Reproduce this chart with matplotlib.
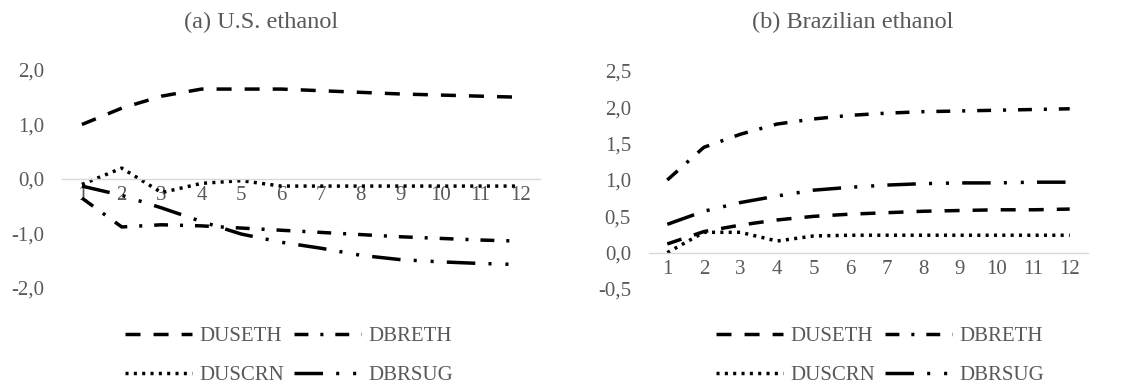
import matplotlib
matplotlib.use("Agg")
import matplotlib.pyplot as plt

# データ
periods = [1, 2, 3, 4, 5, 6, 7, 8, 9, 10, 11, 12]

# (a) U.S. ethanol
us_duseth = [1.00, 1.30, 1.52, 1.65, 1.65, 1.65, 1.62, 1.59, 1.56, 1.54, 1.52, 1.50]
us_dbreth = [-0.35, -0.88, -0.84, -0.86, -0.90, -0.94, -0.98, -1.02, -1.06, -1.09, -1.12, -1.14]
us_duscrn = [-0.10, 0.20, -0.25, -0.08, -0.03, -0.13, -0.13, -0.13, -0.13, -0.13, -0.13, -0.13]
us_dbrsug = [-0.13, -0.30, -0.53, -0.78, -1.01, -1.16, -1.27, -1.40, -1.48, -1.52, -1.55, -1.57]

# (b) Brazilian ethanol
br_duseth = [0.12, 0.29, 0.38, 0.45, 0.50, 0.53, 0.55, 0.57, 0.58, 0.59, 0.59, 0.60]
br_dbreth = [1.00, 1.45, 1.63, 1.77, 1.84, 1.89, 1.92, 1.94, 1.95, 1.96, 1.97, 1.98]
br_duscrn = [0.00, 0.28, 0.28, 0.16, 0.23, 0.24, 0.24, 0.24, 0.24, 0.24, 0.24, 0.24]
br_dbrsug = [0.39, 0.57, 0.69, 0.78, 0.86, 0.90, 0.93, 0.95, 0.96, 0.96, 0.97, 0.97]

us_yticks = [-2.0, -1.0, 0.0, 1.0, 2.0]
us_ylabels = ["-2,0", "-1,0", "0,0", "1,0", "2,0"]
br_yticks = [-0.5, 0.0, 0.5, 1.0, 1.5, 2.0, 2.5]
br_ylabels = ["-0,5", "0,0", "0,5", "1,0", "1,5", "2,0", "2,5"]

names = ["DUSETH", "DBRETH", "DUSCRN", "DBRSUG"]

plt.rcParams["font.family"] = ["Liberation Serif", "DejaVu Serif"]
plt.rcParams["lines.scale_dashes"] = False
gray = "#595959"

# 線種 (pt)
styles = {
    "DUSETH": (0, (10.8, 9.4)),
    "DBRETH": (0, (10.0, 8.6, 2.2, 8.6)),
    "DUSCRN": (0, (2.2, 3.8)),
    "DBRSUG": (0, (20.5, 9.5, 2.2, 10.0, 2.2, 9.5)),
}

fig = plt.figure(figsize=(11.26, 3.85), dpi=100)
ax1 = fig.add_axes([62 / 1126, 1 - 288 / 385, 478 / 1126, 218 / 385])
ax2 = fig.add_axes([649 / 1126, 1 - 289 / 385, 439 / 1126, 218 / 385])


def draw(ax, series, yticks, ylabels):
    handles = {}
    for name, vals in zip(names, series):
        (ln,) = ax.plot(periods, vals, color="black", linewidth=2.5,
                        linestyle=styles[name], label=name)
        handles[name] = ln
    ax.set_xlim(0.5, 12.5)
    ax.set_ylim(yticks[0], yticks[-1])
    ax.set_xticks(periods)
    ax.set_xticklabels([str(p) for p in periods])
    ax.set_yticks(yticks)
    ax.set_yticklabels(ylabels)
    for s in ["top", "right", "left"]:
        ax.spines[s].set_visible(False)
    ax.spines["bottom"].set_position(("data", 0))
    ax.spines["bottom"].set_color("#d9d9d9")
    ax.spines["bottom"].set_linewidth(1.0)
    ax.tick_params(axis="x", length=0, pad=5, labelsize=15, labelcolor=gray)
    ax.tick_params(axis="y", length=0, pad=13, labelsize=15, labelcolor=gray)
    return handles


h1 = draw(ax1, [us_duseth, us_dbreth, us_duscrn, us_dbrsug], us_yticks, us_ylabels)
h2 = draw(ax2, [br_duseth, br_dbreth, br_duscrn, br_dbrsug], br_yticks, br_ylabels)

fig.text(261 / 1126, 1 - 22 / 385, "(a) U.S. ethanol", ha="center", va="center",
         fontsize=17.5, color=gray)
fig.text(853 / 1126, 1 - 22 / 385, "(b) Brazilian ethanol", ha="center", va="center",
         fontsize=17.5, color=gray)

order = ["DUSETH", "DUSCRN", "DBRETH", "DBRSUG"]
for h, cx in [(h1, 289), (h2, 880)]:
    leg = fig.legend([h[n] for n in order], order, ncol=2, loc="center",
                     bbox_to_anchor=(cx / 1126, 1 - 356 / 385), frameon=False,
                     fontsize=15, handlelength=3.2, handletextpad=0.35,
                     columnspacing=0.5, labelspacing=0.95, borderpad=0)
    for t in leg.get_texts():
        t.set_color(gray)

fig.savefig("out.png", dpi=100)
